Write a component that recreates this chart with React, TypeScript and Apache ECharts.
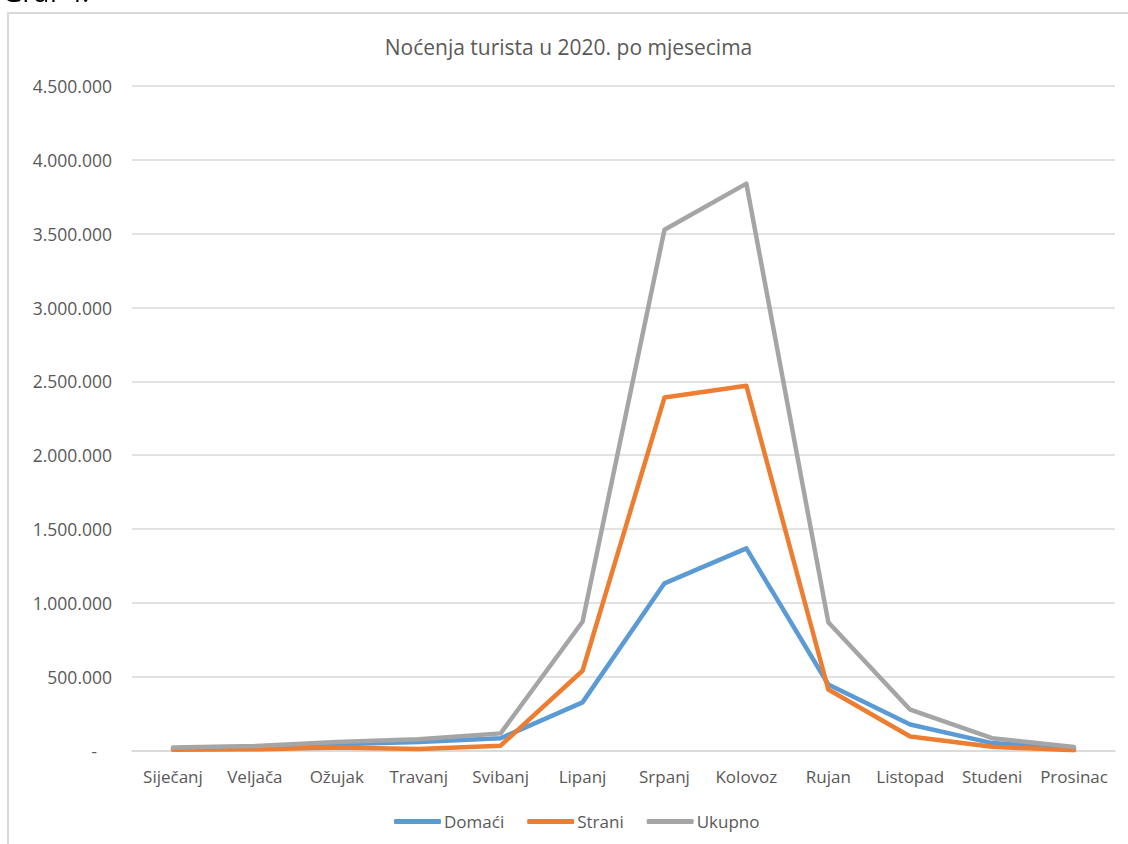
import React, { useEffect, useRef } from "react";
import * as echarts from "echarts";

const categories = [
  "Siječanj", "Veljača", "Ožujak", "Travanj", "Svibanj", "Lipanj",
  "Srpanj", "Kolovoz", "Rujan", "Listopad", "Studeni", "Prosinac",
];
const domaci = [12000, 20000, 42000, 58000, 83000, 326000, 1132000, 1369000, 447000, 176000, 50000, 12000];
const strani = [5000, 8000, 20000, 10000, 33000, 540000, 2390000, 2470000, 413000, 95000, 25000, 2000];
const ukupno = [20000, 30000, 57000, 76000, 116000, 872000, 3527000, 3839000, 869000, 276000, 83000, 23000];
const seriesNames = ["Domaći", "Strani", "Ukupno"];
const seriesColors = ["#5B9BD5", "#ED7D31", "#A5A5A5"];
const titleText = "Noćenja turista u 2020. po mjesecima";
const captionText = "Graf 4.";

const FONT = "'Open Sans', Lato, sans-serif";
const TEXT_COLOR = "#595959";

function fmt(v: number): string {
  if (v === 0) return "{z|-}";
  return String(v).replace(/\B(?=(\d{3})+(?!\d))/g, ".");
}

export default function App() {
  const ref = useRef<HTMLDivElement>(null);
  useEffect(() => {
    if (!ref.current) return;
    const chart = echarts.init(ref.current, undefined, { renderer: "svg" });
    const data = [domaci, strani, ukupno];
    chart.setOption({
      animation: false,
      title: {
        text: titleText,
        left: "center",
        top: 17,
        textStyle: { fontFamily: FONT, fontSize: 21, fontWeight: "normal", color: TEXT_COLOR },
      },
      legend: {
        bottom: 9,
        left: 380,
        icon: "roundRect",
        itemWidth: 47,
        itemHeight: 5,
        itemGap: 23,
        textStyle: { fontFamily: FONT, fontSize: 17, color: TEXT_COLOR, padding: [0, 0, 0, -2] },
        data: seriesNames,
      },
      grid: { left: 123, right: 13, top: 72, bottom: 93.5, containLabel: false },
      xAxis: {
        type: "category",
        data: categories,
        boundaryGap: true,
        axisLine: { lineStyle: { color: "#d9d9d9", width: 1.5 } },
        axisTick: { show: false },
        axisLabel: { fontFamily: FONT, fontSize: 17, color: TEXT_COLOR, margin: 17, interval: 0 },
      },
      yAxis: {
        type: "value",
        min: 0,
        max: 4500000,
        interval: 500000,
        axisLine: { show: false },
        axisTick: { show: false },
        splitLine: { lineStyle: { color: "#d9d9d9", width: 1.5 } },
        axisLabel: {
          fontFamily: FONT,
          fontSize: 17.5,
          color: TEXT_COLOR,
          margin: 20,
          formatter: (v: number) => fmt(v),
          rich: { z: { fontFamily: FONT, fontSize: 17, color: TEXT_COLOR, padding: [0, 15, 0, 0] } },
        },
      },
      series: seriesNames.map((name, i) => ({
        name,
        type: "line",
        data: data[i],
        showSymbol: false,
        symbol: "none",
        color: seriesColors[i],
        lineStyle: { width: 4.5, color: seriesColors[i], cap: "round", join: "round" },
        z: 2 + i,
      })),
    });
    return () => chart.dispose();
  }, []);

  return (
    <>
      <div
        style={{
          position: "fixed",
          left: 2,
          top: -23,
          fontFamily: FONT,
          fontSize: 28,
          lineHeight: "28px",
          color: "#000",
          whiteSpace: "nowrap",
        }}
      >
        {captionText}
      </div>
      <div
        style={{
          position: "fixed",
          left: 7,
          top: 12,
          width: 1119,
          height: 830,
          borderLeft: "2px solid #d9d9d9",
          borderTop: "2px solid #d9d9d9",
          background: "#fff",
        }}
      >
        <div ref={ref} style={{ width: 1119, height: 830 }} />
      </div>
    </>
  );
}
